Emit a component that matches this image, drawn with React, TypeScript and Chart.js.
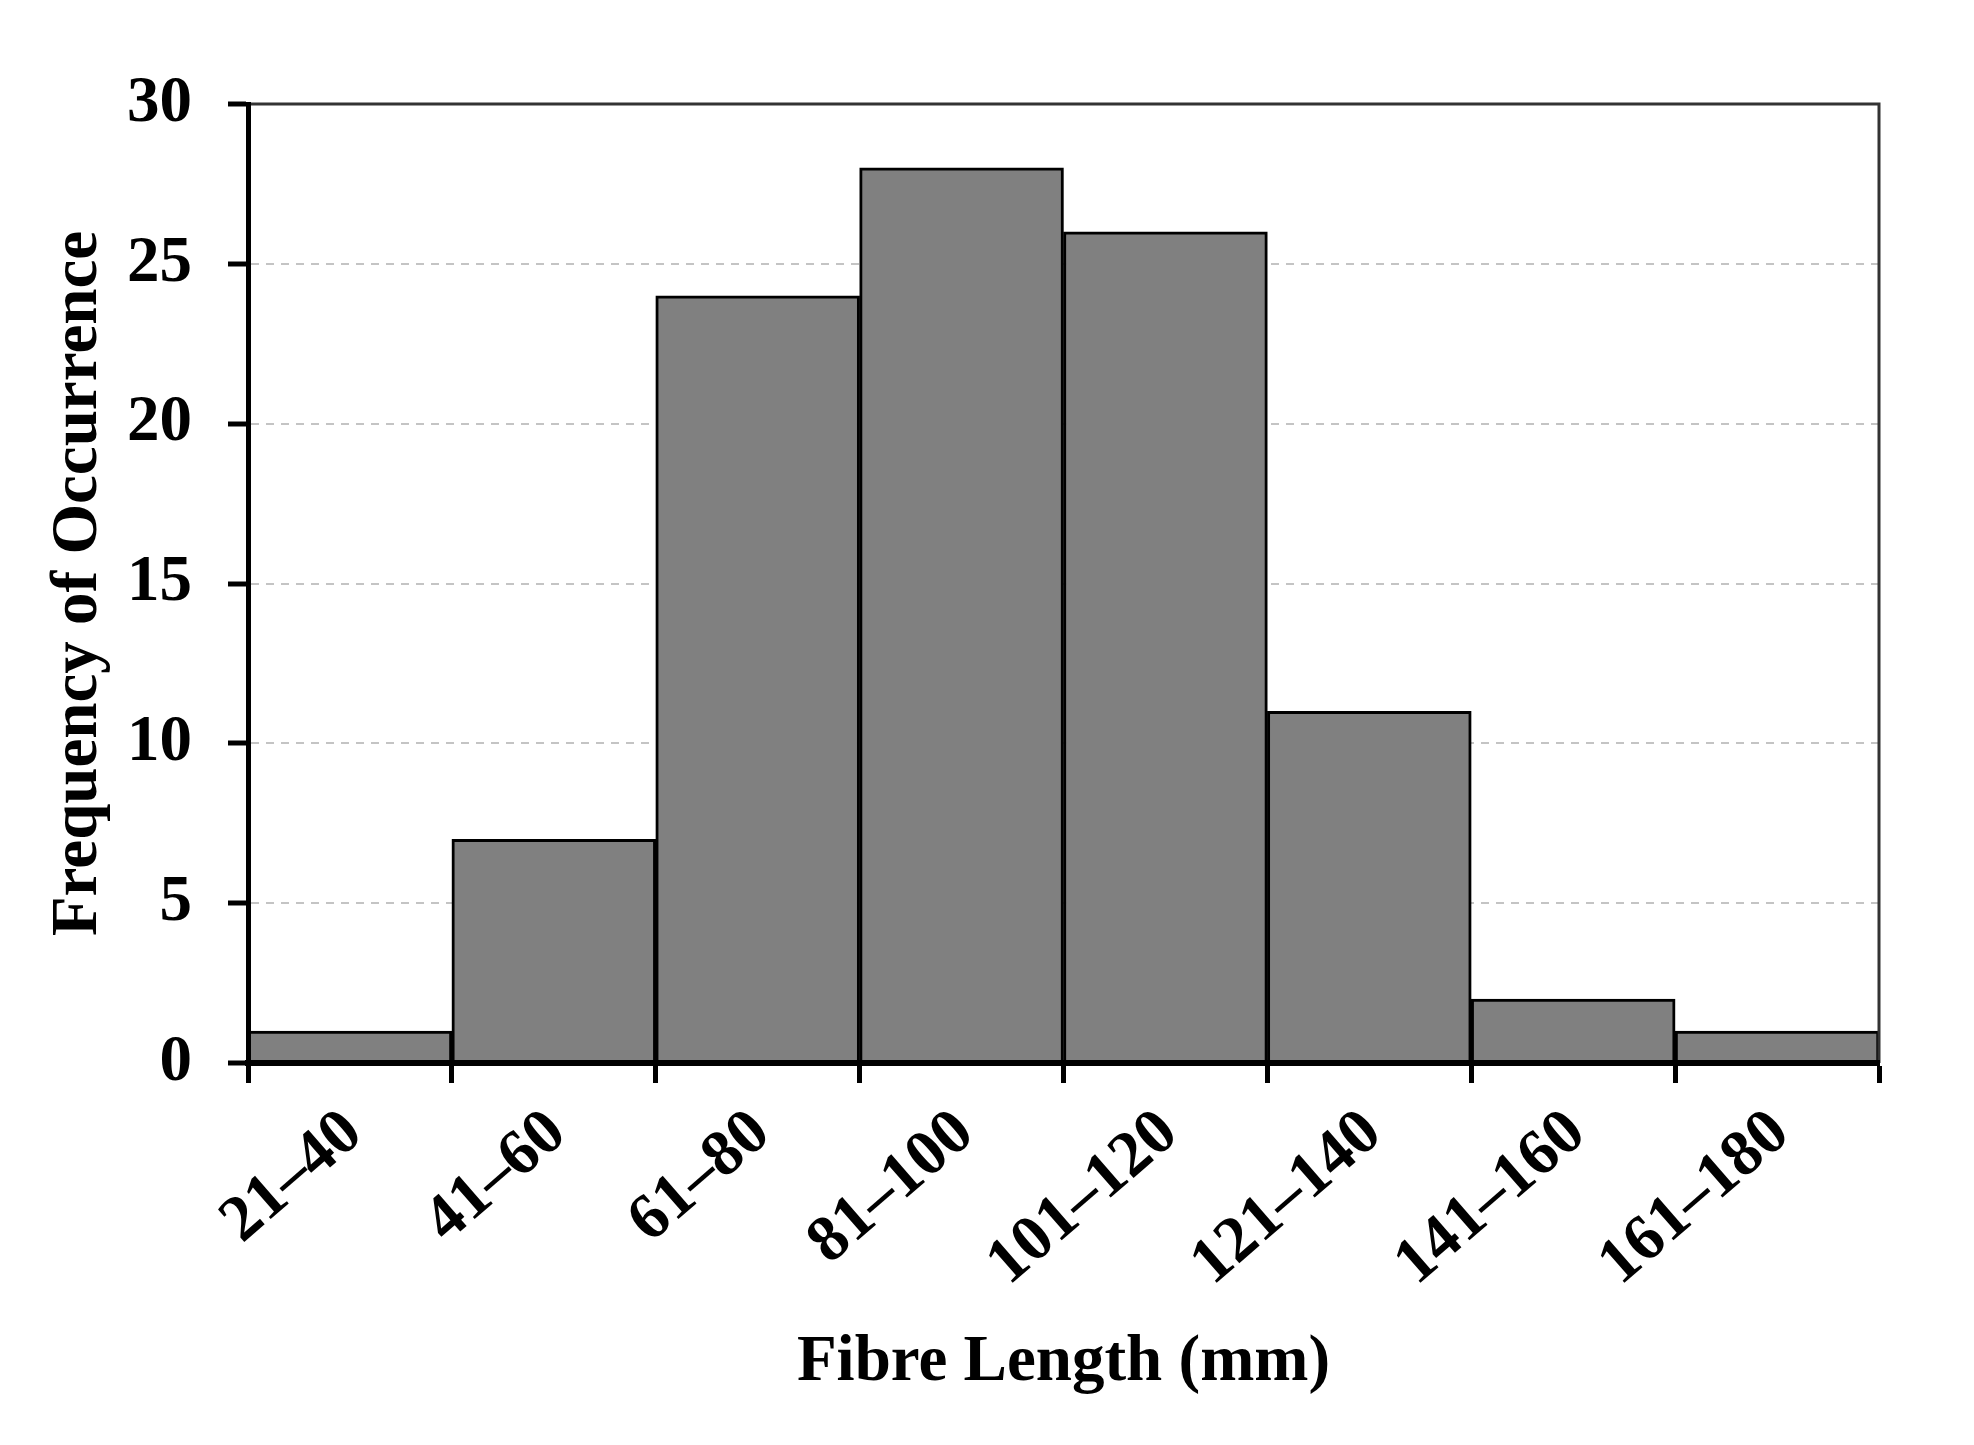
import React, { useEffect, useRef } from 'react'
import { Chart, registerables } from 'chart.js'

Chart.register(...registerables)

// fibre length classes (mm) and how often each occurred
const lengthBins = ['21–40', '41–60', '61–80', '81–100', '101–120', '121–140', '141–160', '161–180']
const frequency = [1, 7, 24, 28, 26, 11, 2, 1]
const yTicks = [0, 5, 10, 15, 20, 25, 30]

const W = 1974
const H = 1445
const serif = "'Liberation Serif', 'Times New Roman', Times, serif"
const bigFont = { family: serif, size: 65, weight: 'bold' as const }

// thin dark frame on the top and right of the plot
const framePlugin = {
  id: 'frame',
  afterDatasetsDraw(chart: any) {
    const { ctx, chartArea } = chart
    ctx.save()
    ctx.strokeStyle = '#333'
    ctx.lineWidth = 3
    ctx.beginPath()
    ctx.moveTo(chartArea.left, chartArea.top)
    ctx.lineTo(chartArea.right, chartArea.top)
    ctx.lineTo(chartArea.right, chartArea.bottom)
    ctx.stroke()
    ctx.restore()
  },
}

const FibreHistogram = () => {
  const chartRef = useRef<HTMLCanvasElement>(null)

  useEffect(() => {
    document.body.style.margin = '0'
    if (!chartRef.current) return
    const ctx = chartRef.current.getContext('2d')
    if (!ctx) return

    const chart = new Chart(ctx, {
      type: 'bar',
      data: {
        labels: lengthBins,
        datasets: [{
          label: 'Frequency',
          data: frequency,
          backgroundColor: '#808080',
          borderColor: '#000000',
          borderWidth: 3,
          categoryPercentage: 1,
          barPercentage: 1,
        }],
      },
      options: {
        animation: false,
        responsive: false,
        devicePixelRatio: 1,
        layout: { padding: { top: 104, right: 95, left: 0, bottom: 0 } },
        plugins: {
          legend: { display: false },
          tooltip: { enabled: false },
        },
        scales: {
          x: {
            offset: true,
            grid: {
              offset: true,
              drawOnChartArea: false,
              tickLength: 20,
              tickWidth: 5,
              tickColor: '#000',
            },
            border: { color: '#000', width: 6, z: 1 },
            ticks: {
              font: bigFont,
              color: '#000',
              minRotation: 41,
              maxRotation: 41,
              autoSkip: false,
              padding: 12,
              labelOffset: 4,
            },
            title: {
              display: true,
              text: 'Fibre Length (mm)',
              font: bigFont,
              color: '#000',
              padding: { top: 0, bottom: 43 },
            },
            afterFit: (scale: any) => { scale.height = 382 },
          },
          y: {
            min: 0,
            max: 30,
            afterBuildTicks: (scale: any) => {
              scale.ticks = yTicks.map((v) => ({ value: v }))
            },
            grid: {
              color: '#c4c4c4',
              lineWidth: 2,
              tickLength: 20,
              tickWidth: 5,
              tickColor: '#000',
              tickBorderDash: [],
            },
            border: { color: '#000', width: 5, dash: [8, 7], z: 1 },
            ticks: {
              font: bigFont,
              color: '#000',
              padding: 36,
            },
            title: {
              display: true,
              text: 'Frequency of Occurrence',
              font: bigFont,
              color: '#000',
              padding: { top: 40, bottom: 0 },
            },
            afterFit: (scale: any) => { scale.width = 248 },
          },
        },
      },
      plugins: [framePlugin],
    })

    return () => {
      chart.destroy()
    }
  }, [])

  return (
    <div style={{ width: W, height: H, background: '#fff' }}>
      <canvas ref={chartRef} width={W} height={H} style={{ width: W, height: H }} />
    </div>
  )
}

export default function App() {
  return <FibreHistogram />
}
